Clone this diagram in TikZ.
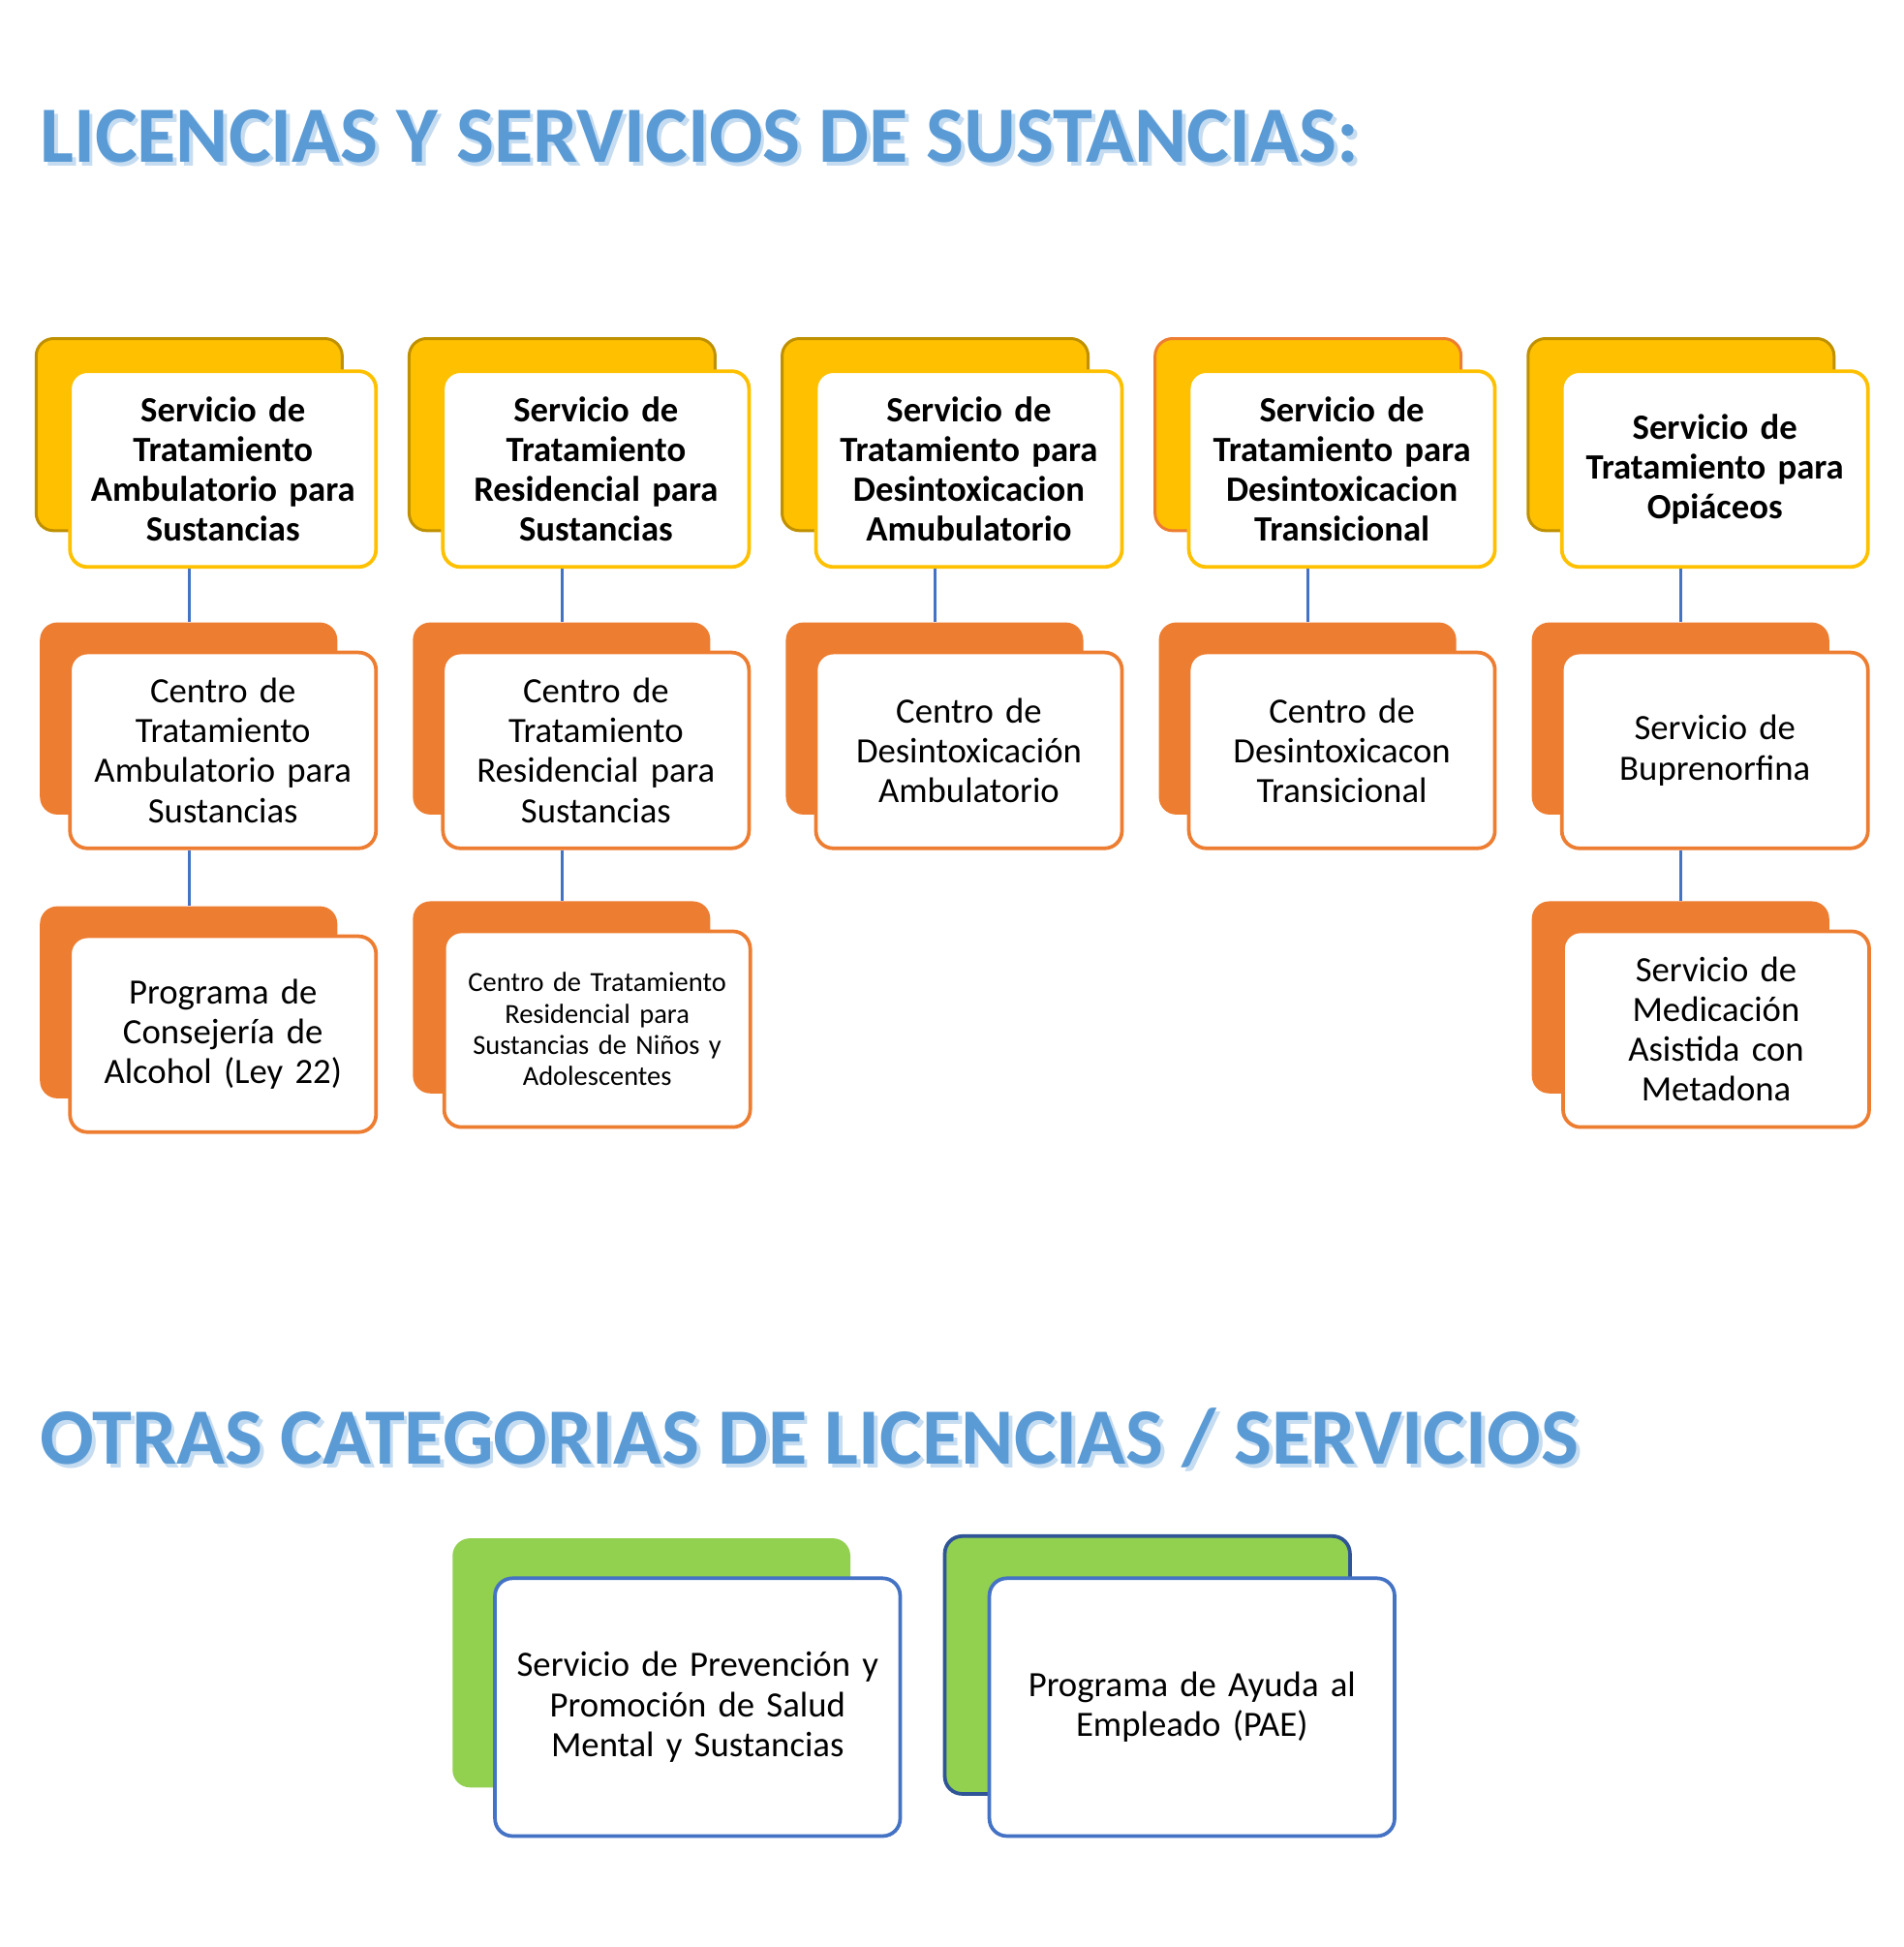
\documentclass[tikz,border=0pt]{standalone}
\usepackage{fontspec}
\setmainfont{Carlito}
\definecolor{gold}{HTML}{FFC000}
\definecolor{golddk}{HTML}{BF9000}
\definecolor{orng}{HTML}{ED7D31}
\definecolor{grn}{HTML}{92D050}
\definecolor{blu}{HTML}{4472C4}
\definecolor{dkblu}{HTML}{2F5597}
\definecolor{ttl}{HTML}{5B9BD5}
\tikzset{
 back/.style={anchor=north west,rounded corners=12,minimum width=240*0.03cm,minimum height=155*0.03cm,inner sep=0pt},
 front/.style={anchor=north west,rounded corners=12,fill=white,line width=2.5pt,minimum width=247*0.03cm,minimum height=158*0.03cm,text width=238*0.03cm,align=center,inner sep=0pt,font=\fontsize{24.5}{27.5}\selectfont},
 conn/.style={draw=blu,line width=2pt},
 ttlstyle/.style={anchor=west,text=ttl,font=\fontsize{55}{65}\selectfont\bfseries,inner sep=0pt}
}
\begin{document}
\begin{tikzpicture}[x=0.03cm,y=-0.03cm]
\useasboundingbox (0,0) rectangle (1536,1571);
\node[ttlstyle,text=ttl!35] at (35,113) {LICENCIAS Y SERVICIOS DE SUSTANCIAS:};
\node[ttlstyle] (t1) at (32,110) {LICENCIAS Y SERVICIOS DE SUSTANCIAS:};
\node[ttlstyle,text=ttl!35] at (35,1163) {OTRAS CATEGORIAS DE LICENCIAS / SERVICIOS};
\node[ttlstyle] (t2) at (32,1160) {OTRAS CATEGORIAS DE LICENCIAS / SERVICIOS};
% top row
\foreach \i/\bc/\txt in {1/golddk/{Servicio de\\Tratamiento\\Ambulatorio para\\Sustancias},
 2/golddk/{Servicio de\\Tratamiento\\Residencial para\\Sustancias},
 3/golddk/{Servicio de\\Tratamiento para\\Desintoxicacion\\Amubulatorio},
 4/orng/{Servicio de\\Tratamiento para\\Desintoxicacion\\Transicional},
 5/golddk/{Servicio de\\Tratamiento para\\Opiáceos}}{
 \node[back,fill=gold,draw=\bc,line width=2pt,minimum width=247*0.03cm] (b\i1) at ({28+301*(\i-1)},272) {};
 \node[front,draw=gold,font=\fontsize{24.5}{27.5}\selectfont\bfseries] (f\i1) at ({55+301*(\i-1)},298) {\txt};
}
% second row
\foreach \i/\txt in {1/{Centro de\\Tratamiento\\Ambulatorio para\\Sustancias},
 2/{Centro de\\Tratamiento\\Residencial para\\Sustancias},
 3/{Centro de\\Desintoxicación\\Ambulatorio},
 4/{Centro de\\Desintoxicacon\\Transicional},
 5/{Servicio de\\Buprenorfina}}{
 \node[back,fill=orng] (b\i2) at ({32+301*(\i-1)},502) {};
 \node[front,draw=orng] (f\i2) at ({55+301*(\i-1)},525) {\txt};
}
% third row
\node[back,fill=orng] (b13) at (32,731) {};
\node[front,draw=orng] (f13) at (55,754) {Programa de\\Consejería de\\Alcohol (Ley 22)};
\node[back,fill=orng] (b23) at (333,727) {};
\node[front,draw=orng,font=\fontsize{19}{21.5}\selectfont] (f23) at (357,750) {Centro de Tratamiento\\Residencial para\\Sustancias de Niños y\\Adolescentes};
\node[back,fill=orng] (b53) at (1236,727) {};
\node[front,draw=orng] (f53) at (1260,750) {Servicio de\\Medicación\\Asistida con\\Metadona};
% connectors
\foreach \i in {1,...,5}{\draw[conn] (b\i1.south |- f\i1.south) -- (b\i1.south |- b\i2.north);}
\foreach \i in {1,2,5}{\draw[conn] (b\i1.south |- f\i2.south) -- (b\i1.south |- b\i3.north);}
% bottom
\node[back,fill=grn,minimum width=321*0.03cm,minimum height=201*0.03cm] (g1) at (365,1241) {};
\node[front,draw=blu,minimum width=327*0.03cm,minimum height=208*0.03cm,text width=310*0.03cm] (h1) at (398,1272) {Servicio de Prevención y\\Promoción de Salud\\Mental y Sustancias};
\node[back,fill=grn,draw=dkblu,line width=2.5pt,minimum width=327*0.03cm,minimum height=208*0.03cm] (g2) at (761,1238) {};
\node[front,draw=blu,minimum width=327*0.03cm,minimum height=208*0.03cm,text width=310*0.03cm] (h2) at (797,1272) {Programa de Ayuda al\\Empleado (PAE)};
\end{tikzpicture}
\end{document}
